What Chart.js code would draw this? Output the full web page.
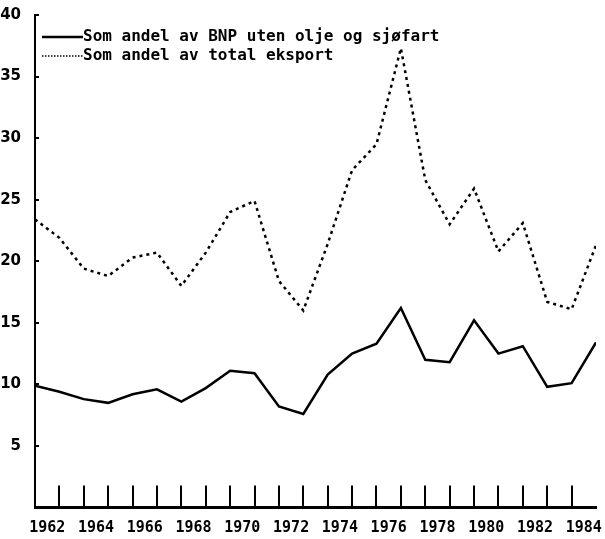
<!DOCTYPE html>
<html>
<head>
<meta charset="utf-8">
<script src="https://cdn.jsdelivr.net/npm/chart.js"></script>
<style>
  body { margin: 0; background: #fff; }
</style>
</head>
<body>
<canvas id="myChart" width="605" height="539"></canvas>
<script>
// Values
const years = [1962, 1963, 1964, 1965, 1966, 1967, 1968, 1969, 1970, 1971, 1972, 1973,
               1974, 1975, 1976, 1977, 1978, 1979, 1980, 1981, 1982, 1983, 1984, 1985];
const bnpShare = [9.9, 9.4, 8.8, 8.5, 9.2, 9.6, 8.6, 9.7, 11.1, 10.9, 8.2, 7.6,
                  10.8, 12.5, 13.3, 16.2, 12.0, 11.8, 15.2, 12.5, 13.1, 9.8, 10.1, 13.4];
const exportShare = [23.4, 21.9, 19.4, 18.8, 20.3, 20.7, 18.0, 20.7, 24.0, 24.9, 18.4, 16.0,
                     21.4, 27.4, 29.5, 37.3, 26.6, 23.0, 25.9, 20.8, 23.1, 16.7, 16.1, 21.3];
const xTickLabels = ['1962', '1964', '1966', '1968', '1970', '1972', '1974', '1976', '1978', '1980', '1982', '1984'];
const yTickValues = [5, 10, 15, 20, 25, 30, 35, 40];
const seriesLabels = ['Som andel av BNP uten olje og sjøfart', 'Som andel av total eksport'];

// inward tick marks on both axes + legend drawn inside the plot
const axisMarks = {
  id: 'axisMarks',
  afterDraw(chart) {
    const ctx = chart.ctx;
    const x = chart.scales.x;
    const y = chart.scales.y;
    const area = chart.chartArea;
    ctx.save();
    ctx.strokeStyle = '#000';
    ctx.lineWidth = 2;
    years.slice(1, -1).forEach(yr => {
      const px = Math.round(x.getPixelForValue(yr));
      ctx.beginPath();
      ctx.moveTo(px, area.bottom);
      ctx.lineTo(px, area.bottom - 22);
      ctx.stroke();
    });
    yTickValues.forEach(v => {
      const py = Math.round(y.getPixelForValue(v));
      ctx.beginPath();
      ctx.moveTo(area.left, py);
      ctx.lineTo(area.left + 4, py);
      ctx.stroke();
    });

    // legend
    ctx.font = 'bold 16px "DejaVu Sans Mono"';
    ctx.fillStyle = '#000';
    ctx.textBaseline = 'middle';
    chart.data.datasets.forEach((ds, i) => {
      const ly = 37 + i * 19;
      ctx.lineWidth = i === 0 ? 2.5 : 1.5;
      ctx.setLineDash(i === 0 ? [] : [1.5, 1.5]);
      ctx.beginPath();
      ctx.moveTo(42, ly);
      ctx.lineTo(83, ly);
      ctx.stroke();
      ctx.setLineDash([]);
      ctx.fillText(ds.label, 83, ly);
    });
    ctx.restore();
  }
};

const ctx = document.getElementById('myChart').getContext('2d');

new Chart(ctx, {
  type: 'line',
  data: {
    datasets: [
      {
        label: seriesLabels[0],
        data: years.map((yr, i) => ({ x: yr, y: bnpShare[i] })),
        borderColor: '#000',
        borderWidth: 2.5,
        pointRadius: 0,
        tension: 0
      },
      {
        label: seriesLabels[1],
        data: years.map((yr, i) => ({ x: yr, y: exportShare[i] })),
        borderColor: '#000',
        borderWidth: 2.5,
        borderDash: [3, 4],
        pointRadius: 0,
        tension: 0
      }
    ]
  },
  options: {
    responsive: false,
    animation: false,
    layout: { padding: { top: 15, right: 9, left: 0, bottom: 0 } },
    plugins: {
      legend: { display: false },
      tooltip: { enabled: false }
    },
    scales: {
      x: {
        type: 'linear',
        min: years[0],
        max: years[years.length - 1],
        grid: { display: false },
        border: { display: true, color: '#000', width: 3 },
        afterBuildTicks: axis => {
          axis.ticks = xTickLabels.map(l => ({ value: Number(l) + 0.5 }));
        },
        afterFit: axis => {
          axis.height = 31.5;
          axis.paddingLeft = 0;
          axis.paddingRight = 0;
        },
        ticks: {
          autoSkip: false,
          maxRotation: 0,
          padding: 4,
          color: '#000',
          font: { family: 'DejaVu Sans Mono', size: 15, weight: 'bold' },
          callback: (value, index) => xTickLabels[index]
        }
      },
      y: {
        min: 0,
        max: 40,
        grid: { display: false },
        border: { display: true, color: '#000', width: 2 },
        afterBuildTicks: axis => {
          axis.ticks = yTickValues.map(v => ({ value: v }));
        },
        afterFit: axis => { axis.width = 35; },
        ticks: {
          padding: 6,
          color: '#000',
          font: { family: 'DejaVu Sans', size: 15, weight: 'bold' },
          callback: value => String(value)
        }
      }
    }
  },
  plugins: [axisMarks]
});
</script>
</body>
</html>
